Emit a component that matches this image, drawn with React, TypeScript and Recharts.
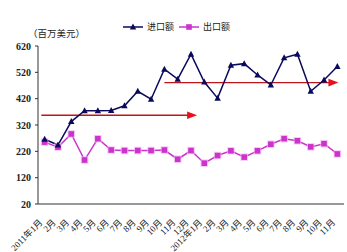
import React from 'react';
import { LineChart, Line, XAxis, YAxis, Legend, ReferenceLine } from 'recharts';

const months = [
  '2011年1月', '2月', '3月', '4月', '5月', '6月', '7月', '8月', '9月', '10月', '11月', '12月',
  '2012年1月', '2月', '3月', '4月', '5月', '6月', '7月', '8月', '9月', '10月', '11月',
];
const importValues = [266, 244, 333, 374, 374, 375, 393, 448, 418, 532, 494, 589, 483, 422, 547, 553, 510, 472, 575, 589, 448, 491, 542];
const exportValues = [255, 236, 286, 187, 268, 225, 223, 223, 223, 225, 190, 223, 175, 204, 222, 198, 222, 247, 268, 260, 237, 249, 210];
const yTicks = [20, 120, 220, 320, 420, 520, 620];
const seriesNames = ['进口额', '出口额'];
// trend arrows: level and start/end position (in month index units)
const arrowLevels = [357, 481];
const arrowStarts = [-0.25, 9.0];
const arrowEnds = [11.46, 22.08];

const IMPORT_COLOR = '#0a0a5c';
const EXPORT_COLOR = '#cc33cc';
const SERIF = '"Liberation Serif", "Times New Roman", "Noto Sans CJK SC", serif';

const data = months.map((m, i) => ({ i, label: m, imp: importValues[i], exp: exportValues[i] }));
const boundaryTicks = months.map((_, i) => i - 0.5).concat(months.length - 0.5);
const centerTicks = months.map((_, i) => i);

const Triangle = (props: any) => {
  const { cx, cy } = props;
  if (cx == null || cy == null) return null;
  return <polygon points={`${cx},${cy - 3.5} ${cx - 3.2},${cy + 2.5} ${cx + 3.2},${cy + 2.5}`} fill={IMPORT_COLOR} />;
};

const Square = (props: any) => {
  const { cx, cy } = props;
  if (cx == null || cy == null) return null;
  return (
    <g>
      <rect x={cx - 3.8} y={cy - 3.8} width={7.6} height={7.6} fill="#f2b8f2" opacity={0.7} />
      <rect x={cx - 2.8} y={cy - 2.8} width={5.6} height={5.6} fill={EXPORT_COLOR} />
    </g>
  );
};

const MonthTick = (props: any) => {
  const { x, y, payload } = props;
  const label = months[payload.value];
  if (label == null) return null;
  const tx = x - 1.5;
  const ty = y + 19;
  return (
    <text x={tx} y={ty} transform={`rotate(-45, ${tx}, ${ty})`} textAnchor="end" fontSize={9} fontFamily={SERIF} fill="#222">
      {label}
    </text>
  );
};

const ArrowShape = (props: any) => {
  const { x1, y1, x2, y2 } = props;
  if (x1 == null) return null;
  const head = 10;
  return (
    <g>
      <line x1={x1} y1={y1} x2={x2 - head + 1} y2={y2} stroke="#c0141c" strokeWidth={1.3} />
      <polygon points={`${x2 - head},${y2 - 3.8} ${x2},${y2} ${x2 - head},${y2 + 3.8}`} fill="#e8101a" />
    </g>
  );
};

const LegendContent = () => (
  <div style={{ position: 'relative', height: 20, fontFamily: SERIF, fontSize: 9, color: '#222' }}>
    <div style={{ position: 'absolute', left: 123, top: 4, display: 'flex', alignItems: 'center', whiteSpace: 'nowrap' }}>
      <svg width={20} height={10}>
        <line x1={0} y1={5} x2={20} y2={5} stroke={IMPORT_COLOR} strokeWidth={1.5} />
        <polygon points="10,1.5 6.8,7.5 13.2,7.5" fill={IMPORT_COLOR} />
      </svg>
      <span style={{ marginLeft: 4, marginRight: 5 }}>{seriesNames[0]}</span>
      <svg width={20} height={10}>
        <line x1={0} y1={5} x2={20} y2={5} stroke={EXPORT_COLOR} strokeWidth={1.5} />
        <rect x={7.2} y={2.2} width={5.6} height={5.6} fill={EXPORT_COLOR} />
      </svg>
      <span style={{ marginLeft: 4 }}>{seriesNames[1]}</span>
    </div>
  </div>
);

const UnitLabel = (props: any) => {
  const vb = props.viewBox || { y: 46 };
  return (
    <text x={28} y={vb.y - 9} textAnchor="start" fontSize={9.5} fontFamily={SERIF} fill="#222">
      （百万美元）
    </text>
  );
};

export default function App() {
  return (
    <div style={{ position: 'absolute', left: 0, top: 0, width: 347, height: 252, background: '#fff' }}>
      <LineChart width={347} height={252} data={data} margin={{ top: 26, right: 3, left: 0, bottom: 0 }}>
        <Legend verticalAlign="top" content={<LegendContent />} wrapperStyle={{ top: 16, left: 0, width: 347, height: 20 }} />
        <XAxis
          xAxisId="a"
          type="number"
          dataKey="i"
          domain={[-0.5, months.length - 0.5]}
          ticks={boundaryTicks}
          interval={0}
          mirror
          tick={false}
          tickSize={3}
          stroke="#333"
        />
        <XAxis
          xAxisId="b"
          type="number"
          dataKey="i"
          domain={[-0.5, months.length - 0.5]}
          ticks={centerTicks}
          interval={0}
          height={48}
          axisLine={false}
          tickLine={false}
          tickSize={0}
          tickMargin={0}
          tick={<MonthTick />}
        />
        <YAxis
          type="number"
          domain={[20, 620]}
          ticks={yTicks}
          interval={0}
          width={38}
          tickSize={3}
          tickMargin={4}
          stroke="#333"
          tick={{ fontSize: 10, fontFamily: SERIF, fontWeight: 'bold', fill: '#222' }}
          label={<UnitLabel />}
        />
        {arrowLevels.map((lv, k) => (
          <ReferenceLine
            key={k}
            xAxisId="a"
            segment={[{ x: arrowStarts[k], y: lv }, { x: arrowEnds[k], y: lv }]}
            shape={<ArrowShape />}
            ifOverflow="visible"
          />
        ))}
        <Line xAxisId="a" type="linear" dataKey="exp" name={seriesNames[1]} stroke={EXPORT_COLOR} strokeWidth={1.5} dot={<Square />} isAnimationActive={false} />
        <Line xAxisId="a" type="linear" dataKey="imp" name={seriesNames[0]} stroke={IMPORT_COLOR} strokeWidth={1.5} dot={<Triangle />} isAnimationActive={false} />
      </LineChart>
    </div>
  );
}
